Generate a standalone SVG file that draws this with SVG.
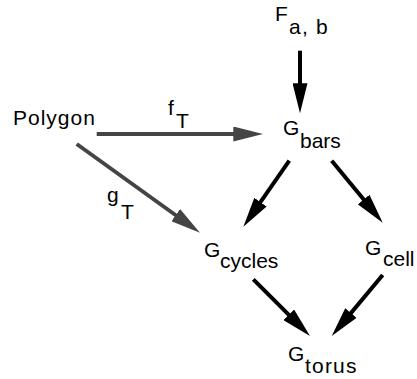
<svg xmlns="http://www.w3.org/2000/svg" width="417" height="379" viewBox="0 0 417 379">
  <style>
    text { font-family: "Liberation Sans", Arial, sans-serif; font-size: 21px; fill: #000; }
    .edge { stroke-width: 4; fill: none; }
    .black { stroke: #000; }
    .gray { stroke: #444; }
  </style>
  <defs>
    <marker id="headBlack" viewBox="0 0 30 15" markerWidth="30" markerHeight="15" refX="4" refY="7.5" orient="auto" markerUnits="userSpaceOnUse">
      <path d="M0,0 L30,7.5 L0,15 Z" fill="#000"/>
    </marker>
    <marker id="headGray" viewBox="0 0 30 15" markerWidth="30" markerHeight="15" refX="4" refY="7.5" orient="auto" markerUnits="userSpaceOnUse">
      <path d="M0,0 L30,7.5 L0,15 Z" fill="#444"/>
    </marker>
  </defs>
  <rect width="417" height="379" fill="#fff"/>

  <g id="connectors">
    <line class="edge black" x1="300" y1="50.7" x2="300" y2="87.3" marker-end="url(#headBlack)"/>
    <line class="edge gray" x1="96.7" y1="134" x2="237.3" y2="134" marker-end="url(#headGray)"/>
    <line class="edge gray" x1="76.7" y1="144" x2="178.9" y2="217.5" marker-end="url(#headGray)"/>
    <line class="edge black" x1="289.3" y1="160.7" x2="258.2" y2="205.4" marker-end="url(#headBlack)"/>
    <line class="edge black" x1="331.7" y1="160.7" x2="366.2" y2="202.6" marker-end="url(#headBlack)"/>
    <line class="edge black" x1="253.3" y1="279.3" x2="291.6" y2="317.6" marker-end="url(#headBlack)"/>
    <line class="edge black" x1="382.7" y1="275" x2="348.4" y2="316.1" marker-end="url(#headBlack)"/>
    <text x="168" y="115">f</text>
    <text x="176" y="128">T</text>
    <text x="107" y="202">g</text>
    <text x="121" y="219">T</text>
  </g>

  <g id="node-fab">
    <text x="275" y="21">F</text>
    <text x="289" y="34" letter-spacing="1.2">a, b</text>
  </g>
  <g id="node-polygon">
    <text x="13" y="125" letter-spacing="1">Polygon</text>
  </g>
  <g id="node-gbars">
    <text x="283" y="135">G</text>
    <text x="300" y="148">bars</text>
  </g>
  <g id="node-gcycles">
    <text x="204" y="257">G</text>
    <text x="220" y="268">cycles</text>
  </g>
  <g id="node-gcell">
    <text x="365" y="255">G</text>
    <text x="383" y="266">cell</text>
  </g>
  <g id="node-gtorus">
    <text x="288" y="361">G</text>
    <text x="305" y="373" letter-spacing="1.2">torus</text>
  </g>
</svg>
